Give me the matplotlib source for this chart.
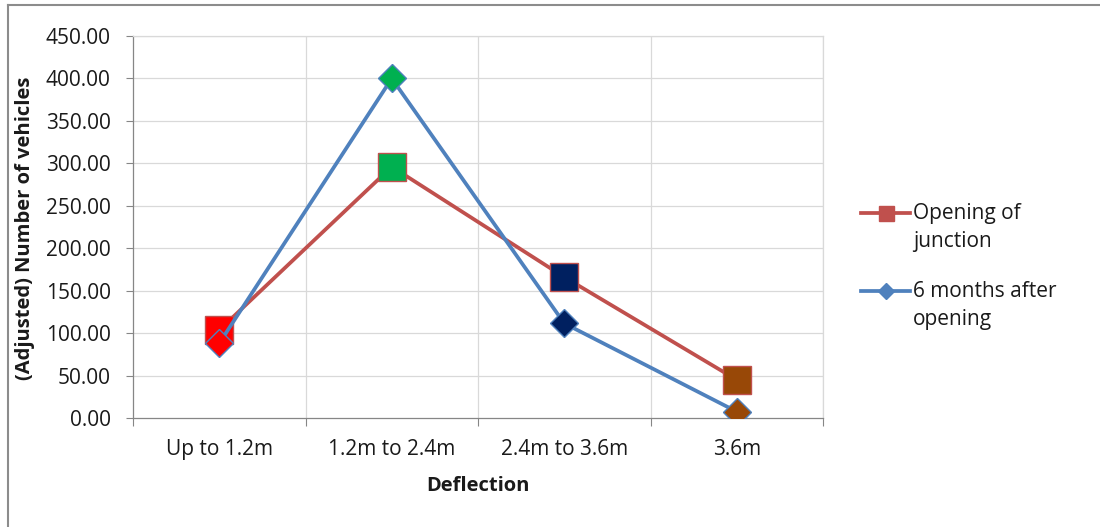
import matplotlib
matplotlib.use("Agg")
import matplotlib.pyplot as plt
from matplotlib.lines import Line2D
from matplotlib.ticker import FormatStrFormatter, FixedLocator

plt.rcParams["font.family"] = ["Open Sans", "DejaVu Sans"]

# Data
categories = ["Up to 1.2m", "1.2m to 2.4m", "2.4m to 3.6m", "3.6m"]
opening_of_junction = [103.6, 296.0, 166.0, 45.0]
six_months_after = [88.0, 400.0, 111.5, 7.5]
series_names = ["Opening of\njunction", "6 months after\nopening"]
point_colors = ["#FF0000", "#00B050", "#002060", "#984807"]

RED = "#C0504D"
BLUE = "#4F81BD"
GRID = "#D9D9D9"
AXIS = "#868686"
TEXT = "#1A1A1A"

W, H = 1100, 527
fig = plt.figure(figsize=(W / 100, H / 100), dpi=100)
fig.patch.set_facecolor("white")


def fx(px):
    return px / W


def fy(py):
    return 1 - py / H


ax = fig.add_axes([fx(133), fy(418), fx(823) - fx(133), fy(36) - fy(418)])
x = list(range(len(categories)))

# Series 1: line then per-point square markers
ax.plot(x, opening_of_junction, color=RED, lw=2.7, zorder=3, solid_capstyle="round")
for xi, yi, c in zip(x, opening_of_junction, point_colors):
    ax.plot([xi], [yi], marker="s", ms=20.3, mfc=c, mec=RED, mew=1.0, zorder=4, ls="none")

# Series 2: line then per-point diamond markers
ax.plot(x, six_months_after, color=BLUE, lw=2.7, zorder=5, solid_capstyle="round")
for xi, yi, c in zip(x, six_months_after, point_colors):
    ax.plot([xi], [yi], marker="D", ms=14.6, mfc=c, mec=BLUE, mew=1.0, zorder=6, ls="none")

ax.set_xlim(-0.5, len(categories) - 0.5)
ax.set_ylim(0, 450)
ax.set_yticks([0, 50, 100, 150, 200, 250, 300, 350, 400, 450])
ax.yaxis.set_major_formatter(FormatStrFormatter("%.2f"))

# Category labels at centres, tick marks at the category boundaries
ax.set_xticks(x)
ax.set_xticklabels(categories)
ax.xaxis.set_minor_locator(FixedLocator([i - 0.5 for i in range(len(categories) + 1)]))
ax.tick_params(axis="x", which="major", length=0, pad=15, labelsize=15, labelcolor=TEXT)
ax.tick_params(axis="x", which="minor", length=6, width=0.8, color=AXIS, direction="out")
ax.tick_params(axis="y", which="major", length=5, width=0.8, color=AXIS, pad=11,
               labelsize=15, labelcolor=TEXT)

ax.grid(False)
for yv in range(50, 451, 50):
    ax.axhline(yv, color=GRID, lw=0.9, zorder=1)
for xv in [i + 0.5 for i in range(len(categories))]:
    ax.axvline(xv, color=GRID, lw=0.9, zorder=1)

for side in ["top", "right"]:
    ax.spines[side].set_color(GRID)
    ax.spines[side].set_linewidth(0.9)
for side in ["left", "bottom"]:
    ax.spines[side].set_color(AXIS)
    ax.spines[side].set_linewidth(0.9)

fig.text(fx(25), fy(228), "(Adjusted) Number of vehicles", rotation=90,
         ha="center", va="center", fontsize=14.5, fontweight="bold", color=TEXT)
fig.text(fx(478), fy(486), "Deflection", ha="center", va="center",
         fontsize=14.5, fontweight="bold", color=TEXT)

# Legend
legend_rows = [
    (213, "s", 10.8, RED, series_names[0]),
    (291, "D", 8.0, BLUE, series_names[1]),
]
for ly, mk, ms, col, label in legend_rows:
    fig.add_artist(Line2D([fx(861), fx(910)], [fy(ly), fy(ly)], color=col, lw=2.7,
                          transform=fig.transFigure))
    fig.add_artist(Line2D([fx(886)], [fy(ly)], marker=mk, ms=ms, mfc=col, mec=col,
                          ls="none", transform=fig.transFigure))
    for k, line in enumerate(label.split("\n")):
        fig.text(fx(913), fy(ly + 6 + 28 * k), line, ha="left", va="baseline",
                 fontsize=15, color=TEXT)

# Chart border
fig.add_artist(Line2D([fx(7.5), fx(7.5)], [fy(5), fy(540)], color="#8C8C8C", lw=1.5,
                      transform=fig.transFigure))
fig.add_artist(Line2D([fx(7.5), fx(1110)], [fy(5), fy(5)], color="#8C8C8C", lw=1.5,
                      transform=fig.transFigure))

fig.savefig("out.png", dpi=100)
